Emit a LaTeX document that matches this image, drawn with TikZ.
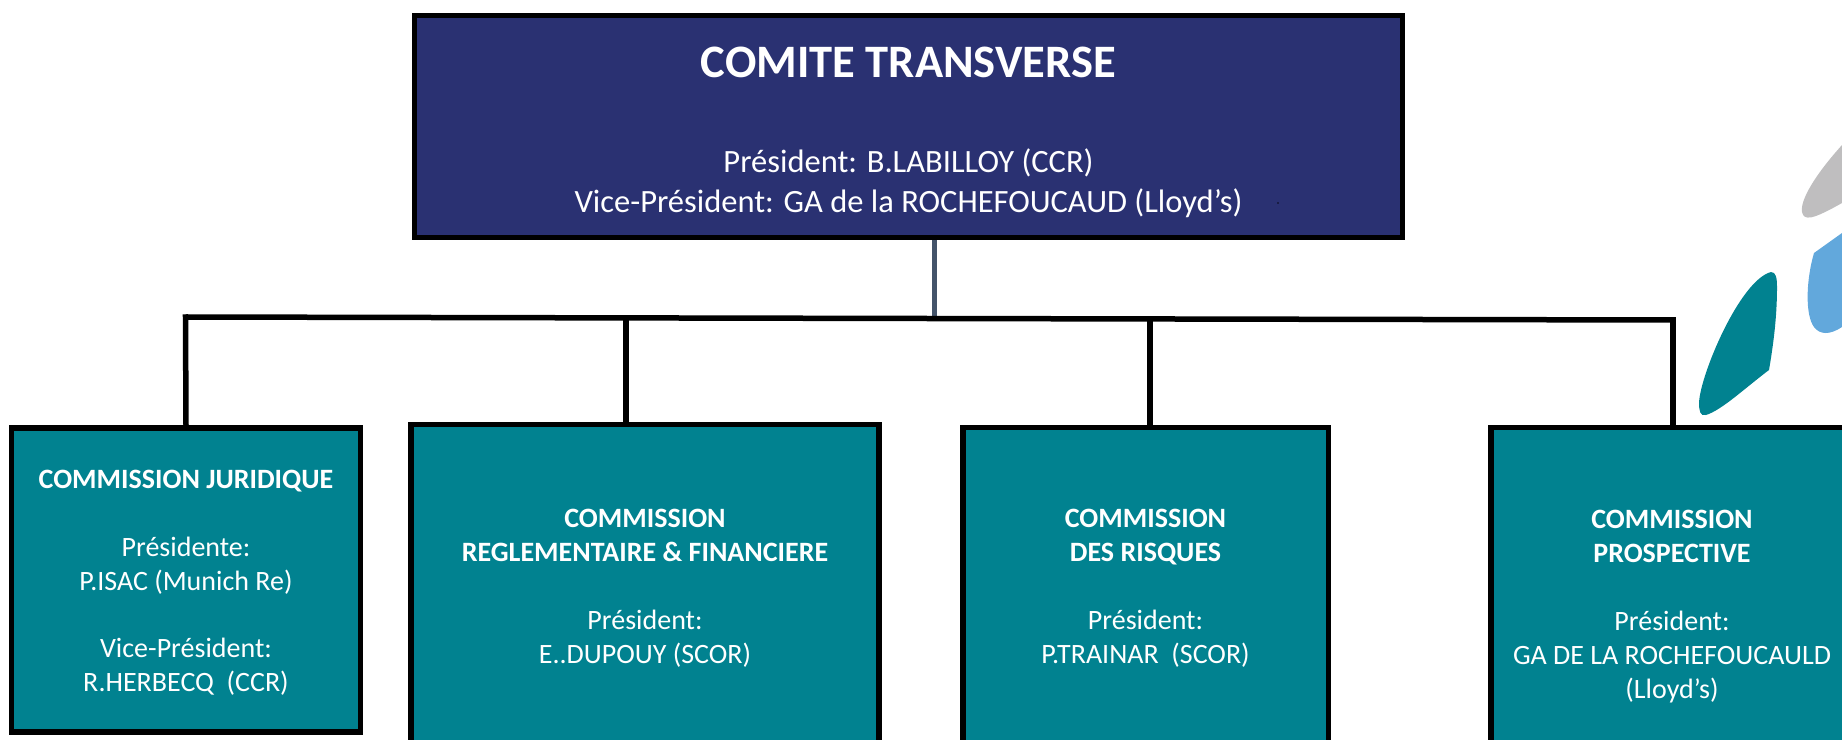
\documentclass[tikz,border=0pt]{standalone}
\usepackage{fontspec}
\setmainfont{Carlito}
\definecolor{navy}{HTML}{2A3172}
\definecolor{teal}{HTML}{018290}
\definecolor{slate}{HTML}{44546A}
\definecolor{sky}{HTML}{62A8DC}
\definecolor{ash}{HTML}{BFBEBF}
\begin{document}
\begin{tikzpicture}[x=1pt,y=-1pt]
    \tikzstyle{box}=[draw=black,line width=5.5pt,text=white,align=center,anchor=north,inner sep=0pt,font=\fontsize{28}{34}\selectfont]
    \tikzstyle{link}=[draw=black,line width=5.5pt]
    \useasboundingbox (0,0) rectangle (1842,739);

    % leaves
    \fill[ash] (1842,145) .. controls (1815,175) and (1800,200) .. (1802,212) .. controls (1804,221) and (1812,220) .. (1842,203) -- cycle;
    \fill[sky] (1814,253) -- (1842,233) -- (1842,327) .. controls (1830,335) and (1820,335) .. (1814,327) .. controls (1805,315) and (1806,280) .. (1814,253) -- cycle;
    \fill[teal] (1771,272) .. controls (1776,272) and (1777,278) .. (1777,287) .. controls (1777,310) and (1775,335) .. (1769,370) .. controls (1745,388) and (1722,410) .. (1706,415) .. controls (1700,417) and (1699,410) .. (1699,403) .. controls (1700,375) and (1740,280) .. (1771,272) -- cycle;

    \node (ct) [box,fill=navy,minimum width=988pt,minimum height=222pt,font=\fontsize{32.5}{40}\selectfont] at (908.5,12.7) {{\rule{0pt}{42pt}\fontsize{46.5}{54}\selectfont\bfseries COMITE TRANSVERSE}\\[55pt]Président: B.LABILLOY (CCR)\\Vice-Président: GA de la ROCHEFOUCAUD (Lloyd’s)};
    \node (cj) [box,fill=teal,minimum width=349pt,minimum height=304pt] at (186,425) {\rule{0pt}{24pt}\textbf{COMMISSION JURIDIQUE}\\[34pt]Présidente:\\P.ISAC (Munich Re)\\[33pt]Vice-Président:\\R.HERBECQ~~(CCR)};
    \node (cr) [box,fill=teal,minimum width=468pt,minimum height=327pt] at (645,421.7) {\textbf{COMMISSION}\\\textbf{REGLEMENTAIRE \& FINANCIERE}\\[34pt]Président:\\E..DUPOUY (SCOR)};
    \node (cd) [box,fill=teal,minimum width=365.5pt,minimum height=322pt] at (1145.5,424.7) {\textbf{COMMISSION}\\\textbf{DES RISQUES}\\[34pt]Président:\\P.TRAINAR~~(SCOR)};
    \node (cp) [box,fill=teal,minimum width=362pt,minimum height=358pt] at (1672,424.7) {\textbf{COMMISSION}\\\textbf{PROSPECTIVE}\\[34pt]Président:\\GA DE LA ROCHEFOUCAULD\\(Lloyd’s)};

    \coordinate (bl) at (185.5,317);
    \coordinate (br) at (1673,320);
    \coordinate (b0) at (934,318);
    \coordinate (b2) at (626,318);
    \coordinate (b3) at (1150,319);

    \draw[slate,line width=5pt] (ct.south -| b0) -- (b0);
    \draw[link] (bl) -- (br);
    \draw[link,line cap=rect] (bl) -- (cj.north);
    \draw[link] (b2) -- (b2 |- cr.north);
    \draw[link] (b3) -- (b3 |- cd.north);
    \draw[link,line cap=rect] (br) -- (br |- cp.north);

    \fill[black!80!navy] (1278,203) circle (0.8);
\end{tikzpicture}
\end{document}
